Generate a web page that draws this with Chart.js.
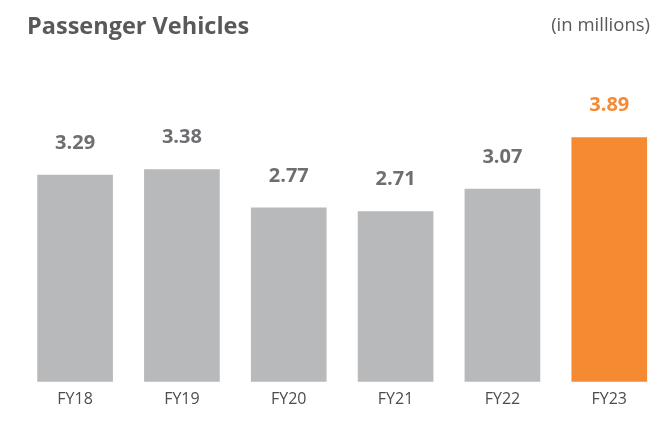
<!DOCTYPE html>
<html>
<head>
<meta charset="utf-8">
<script src="https://cdn.jsdelivr.net/npm/chart.js@4.4.1/dist/chart.umd.min.js"></script>
<style>
  html, body { margin: 0; padding: 0; background: #ffffff; overflow: hidden; }
  #wrap { position: relative; width: 652px; height: 430px; }
</style>
</head>
<body>
<div id="wrap"><canvas id="pvChart"></canvas></div>
<script>
const years = ['FY18', 'FY19', 'FY20', 'FY21', 'FY22', 'FY23'];
const volumes = [3.29, 3.38, 2.77, 2.71, 3.07, 3.89];
const barColors = ['#b8b9bb', '#b8b9bb', '#b8b9bb', '#b8b9bb', '#b8b9bb', '#f58a33'];
const labelColors = ['#6d6e71', '#6d6e71', '#6d6e71', '#6d6e71', '#6d6e71', '#f58a33'];
const unitText = '(in millions)';

const FONT = "'Open Sans', 'Noto Sans', sans-serif";

// value above each bar + unit note at top right
const barLabels = {
    id: 'barLabels',
    afterDatasetsDraw(chart) {
        const ctx = chart.ctx;
        const meta = chart.getDatasetMeta(0);
        ctx.save();
        ctx.font = `bold 20px ${FONT}`;
        ctx.textAlign = 'center';
        ctx.textBaseline = 'middle';
        meta.data.forEach((bar, i) => {
            ctx.fillStyle = labelColors[i];
            ctx.fillText(volumes[i].toFixed(2), bar.x, bar.y - 32);
        });
        ctx.font = `18.5px ${FONT}`;
        ctx.fillStyle = '#58595b';
        ctx.textAlign = 'right';
        ctx.fillText(unitText, 650, 26);
        ctx.restore();
    }
};

const ctx = document.getElementById('pvChart').getContext('2d');
new Chart(ctx, {
    type: 'bar',
    data: {
        datasets: [{
            data: volumes.map((v, i) => ({ x: i, y: v })),
            backgroundColor: barColors,
            borderWidth: 0,
            barThickness: 75
        }]
    },
    options: {
        responsive: true,
        maintainAspectRatio: false,
        animation: false,
        layout: { padding: { left: 27, right: 0, top: 0, bottom: 13 } },
        plugins: {
            legend: { display: false },
            tooltip: { enabled: false },
            title: {
                display: true,
                text: 'Passenger Vehicles',
                align: 'start',
                color: '#58595b',
                font: { family: FONT, size: 23.5, weight: 'bold' },
                padding: { top: 13, bottom: 58 }
            }
        },
        scales: {
            x: {
                type: 'linear',
                min: -0.45,
                max: 5.4,
                offset: false,
                grid: { display: false, drawTicks: false },
                border: { display: false },
                afterBuildTicks(scale) {
                    scale.ticks = years.map((_, i) => ({ value: i }));
                },
                ticks: {
                    padding: 8,
                    color: '#4d4d4f',
                    font: { family: FONT, size: 16 },
                    callback: (v) => years[v] ?? ''
                }
            },
            y: {
                display: false,
                min: 0,
                max: 4.5
            }
        }
    },
    plugins: [barLabels]
});
</script>
</body>
</html>
